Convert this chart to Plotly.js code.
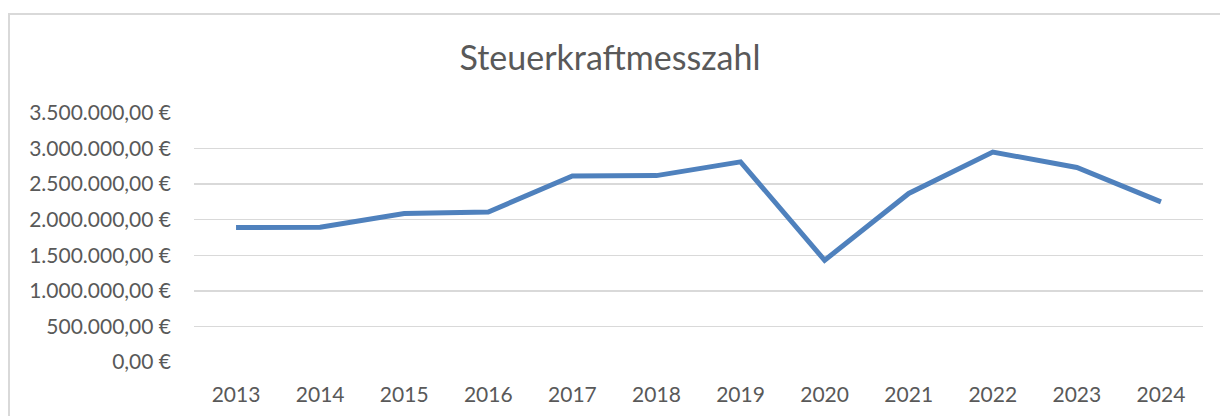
<!DOCTYPE html>
<html>
<head>
<meta charset="utf-8">
<script src="https://cdn.plot.ly/plotly-3.0.1.min.js"></script>
<style>
  html, body { margin: 0; padding: 0; background: #ffffff; }
  #chart { width: 1220px; height: 416px; }
  #frame { position: absolute; left: 8px; top: 13px; width: 1230px; height: 420px;
           border: 2px solid #d9d9d9; box-sizing: border-box; pointer-events: none; }
</style>
</head>
<body>
<div id="chart"></div>
<div id="frame"></div>
<script>
const years = ['2013','2014','2015','2016','2017','2018','2019','2020','2021','2022','2023','2024'];
const steuerkraftmesszahl = [1889000, 1893000, 2086000, 2108000, 2614000, 2620000, 2813000, 1430000, 2369000, 2951000, 2734000, 2251000];
const yTicks = [0, 500000, 1000000, 1500000, 2000000, 2500000, 3000000, 3500000];
const yTickLabels = ['0,00 €', '500.000,00 €', '1.000.000,00 €', '1.500.000,00 €', '2.000.000,00 €', '2.500.000,00 €', '3.000.000,00 €', '3.500.000,00 €'];
const chartTitle = 'Steuerkraftmesszahl';

const font = 'Lato, "Open Sans", sans-serif';

Plotly.newPlot('chart', [{
  x: years,
  y: steuerkraftmesszahl,
  type: 'scatter',
  mode: 'lines',
  line: { color: '#4f81bd', width: 5 },
  hoverinfo: 'skip'
}], {
  width: 1220,
  height: 416,
  margin: { l: 194, r: 17, t: 113, b: 54 },
  paper_bgcolor: '#ffffff',
  plot_bgcolor: '#ffffff',
  showlegend: false,
  title: {
    text: chartTitle,
    font: { family: font, size: 34, color: '#595959' },
    x: 0.5, xanchor: 'center',
    y: 1 - 58/416, yanchor: 'middle', yref: 'container'
  },
  xaxis: {
    type: 'category',
    range: [-0.5, 11.5],
    showgrid: false,
    zeroline: false,
    showline: false,
    ticks: '',
    ticklabelstandoff: 18,
    tickfont: { family: font, size: 21, color: '#595959' },
    fixedrange: true
  },
  yaxis: {
    range: [0, 3500000],
    tickvals: yTicks,
    ticktext: yTickLabels,
    showgrid: true,
    gridcolor: '#d9d9d9',
    gridwidth: 1.5,
    zeroline: false,
    showline: false,
    ticks: '',
    ticklabelstandoff: 22,
    tickfont: { family: font, size: 21, color: '#595959' },
    fixedrange: true
  }
}, { displayModeBar: false, staticPlot: true });
</script>
</body>
</html>
